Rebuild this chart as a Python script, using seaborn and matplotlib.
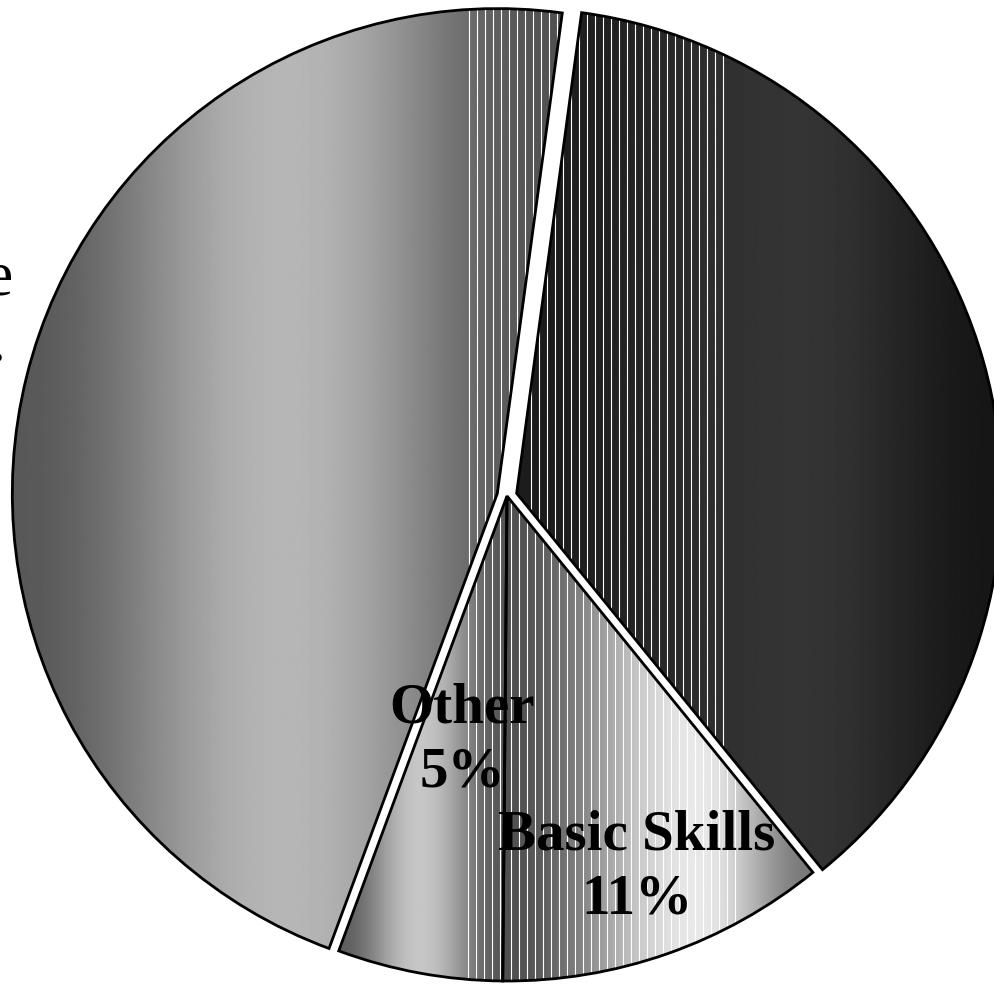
import numpy as np
import matplotlib
matplotlib.use("Agg")
import matplotlib.pyplot as plt
import seaborn as sns

# =============================================================================
# data (clockwise from the top boundary)
# =============================================================================
categories = ["Job Skills", "Basic Skills", "Other", "Career Change"]
shares = [37.0, 11.0, 5.5, 46.5]
pct_text = ["37%", "11%", "5%", "47%"]
show_label = [False, True, True, False]
left_label_lines = ["Career Change", "Cont. Ed."]   # cropped off at the left edge

# =============================================================================
# styling: grey "cylinder" gradient per slice (0-255)
# =============================================================================
shade_left = [28, 80, 95, 88]
shade_peak = [52, 232, 198, 182]
shade_right = [22, 120, 85, 82]
peak_pos = [0.58, 0.63, 0.48, 0.50]
stripe_span = [(0.03, 0.44), (0.0, 0.76), (0.77, 1.0), (0.83, 1.0)]
label_dist = [0, 0.81, 0.51, 0]
explode = [10, 0, 0, 10]

W, H = 994, 987


def shade(t, lo, hi, ro, p):
    left = lo + (hi - lo) * (1 - np.cos(np.pi * t / p)) / 2
    right = ro + (hi - ro) * (1 - np.cos(np.pi * (1 - t) / (1 - p))) / 2
    return np.where(t < p, left, right)


sns.set_theme(style="white")
plt.rcParams["font.family"] = ["Liberation Serif", "DejaVu Serif"]
plt.rcParams["text.color"] = "black"

fig = plt.figure(figsize=(W / 100, H / 100), dpi=100)
ax = fig.add_axes([0, 0, 1, 1])

wedges, _ = ax.pie(shares, explode=explode, startangle=82.3, counterclock=False,
                   center=(507, 490), radius=485,
                   wedgeprops=dict(facecolor="none", edgecolor="black",
                                   linewidth=2.0, zorder=3))

for w, lo, hi, ro, p, (s0, s1) in zip(wedges, shade_left, shade_peak, shade_right,
                                      peak_pos, stripe_span):
    ext = w.get_path().get_extents()
    x0, x1 = ext.x0, ext.x1
    t = np.linspace(0, 1, 600)
    g = shade(t, lo, hi, ro, p)
    im = ax.imshow(g[np.newaxis, :], cmap="gray", vmin=0, vmax=255,
                   extent=(x0, x1, ext.y0, ext.y1), aspect="auto",
                   interpolation="bilinear", origin="lower", zorder=1)
    im.set_clip_path(w)
    # thin white banding stripes
    xs = np.arange(x0 + s0 * (x1 - x0), x0 + s1 * (x1 - x0), 8)
    lines = ax.vlines(xs, ext.y0, ext.y1, colors="white", linewidth=0.8, zorder=2)
    lines.set_clip_path(w)

for w, name, pct, show, d in zip(wedges, categories, pct_text, show_label, label_dist):
    if not show:
        continue
    mid = np.deg2rad((w.theta1 + w.theta2) / 2)
    cx, cy = w.center
    ax.text(cx + d * w.r * np.cos(mid), cy + d * w.r * np.sin(mid), f"{name}\n{pct}",
            ha="center", va="center", fontsize=41, fontweight="bold",
            color="black", linespacing=1.3, zorder=4)

ax.text(13, H - 295, left_label_lines[0], ha="right", va="baseline",
        fontsize=45, color="black")
ax.text(5.5, H - 362, left_label_lines[1], ha="right", va="baseline",
        fontsize=45, color="black")

ax.set_xlim(0, W)
ax.set_ylim(0, H)
ax.set_aspect("equal")
ax.axis("off")
fig.savefig("out.png", dpi=100)
